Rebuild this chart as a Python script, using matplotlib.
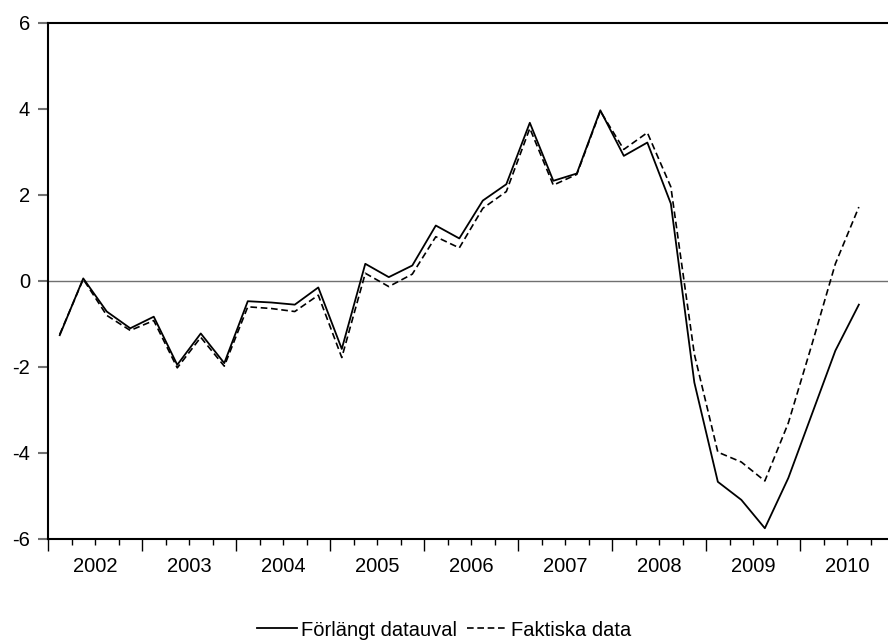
import matplotlib
matplotlib.use("Agg")
import matplotlib.pyplot as plt
from matplotlib.ticker import MultipleLocator, NullFormatter

plt.rcParams['font.family'] = ['Liberation Sans', 'DejaVu Sans']
plt.rcParams['axes.unicode_minus'] = False

# quarterly data, 2002Q1 - 2010Q3
years = [2002, 2003, 2004, 2005, 2006, 2007, 2008, 2009, 2010]

forlangt = [-1.26, 0.06, -0.71, -1.10,
            -0.83, -1.95, -1.22, -1.91,
            -0.47, -0.50, -0.55, -0.15,
            -1.58, 0.40, 0.09, 0.36,
            1.29, 0.99, 1.87, 2.25,
            3.68, 2.33, 2.50, 3.97,
            2.91, 3.22, 1.80, -2.36,
            -4.67, -5.09, -5.75, -4.58,
            -3.10, -1.62, -0.55]

faktiska = [-1.24, 0.04, -0.80, -1.15,
            -0.92, -2.02, -1.31, -1.98,
            -0.60, -0.64, -0.71, -0.33,
            -1.78, 0.18, -0.13, 0.16,
            1.03, 0.77, 1.69, 2.08,
            3.55, 2.23, 2.48, 3.95,
            3.06, 3.45, 2.19, -1.70,
            -3.98, -4.21, -4.65, -3.30,
            -1.48, 0.40, 1.72]

# x position = middle of each quarter (quarter units from 2002Q1)
xs = [i + 0.5 for i in range(len(forlangt))]

fig = plt.figure(figsize=(8.88, 6.43), dpi=100)
ax = fig.add_axes([48 / 888, 104 / 643, 840 / 888, 516 / 643])

ax.axhline(0, color='#707070', lw=1.0, zorder=1)
ax.plot(xs, forlangt, color='black', lw=1.3, label='Förlängt datauval')
ax.plot(xs, faktiska, color='black', lw=1.2, dashes=(4.0, 2.2), label='Faktiska data')

ax.set_xlim(0, 35.74)
ax.set_ylim(-6, 6)
ax.set_yticks([-6, -4, -2, 0, 2, 4, 6])

ax.xaxis.set_major_locator(MultipleLocator(4))
ax.xaxis.set_minor_locator(MultipleLocator(1))
ax.xaxis.set_major_formatter(NullFormatter())
ax.tick_params(axis='x', which='major', direction='out', length=8.5, width=1.0)
ax.tick_params(axis='x', which='minor', direction='out', length=4.5, width=1.0)
ax.tick_params(axis='y', direction='out', length=7, width=1.5, color='#707070',
               labelsize=14.5, pad=6)

for i, yr in enumerate(years):
    ax.text(4 * i + 2, -0.035, str(yr), transform=ax.get_xaxis_transform(),
            ha='center', va='top', fontsize=14.5)

for s in ['left', 'bottom', 'top']:
    ax.spines[s].set_linewidth(1.5)
ax.spines['right'].set_visible(False)

fig.legend(loc='center', bbox_to_anchor=(0.5, 13 / 643), ncol=2, frameon=False,
           fontsize=14.5, handlelength=2.0, handletextpad=0.2, columnspacing=0.5,
           borderpad=0.0)

fig.savefig('out.png', dpi=100)
